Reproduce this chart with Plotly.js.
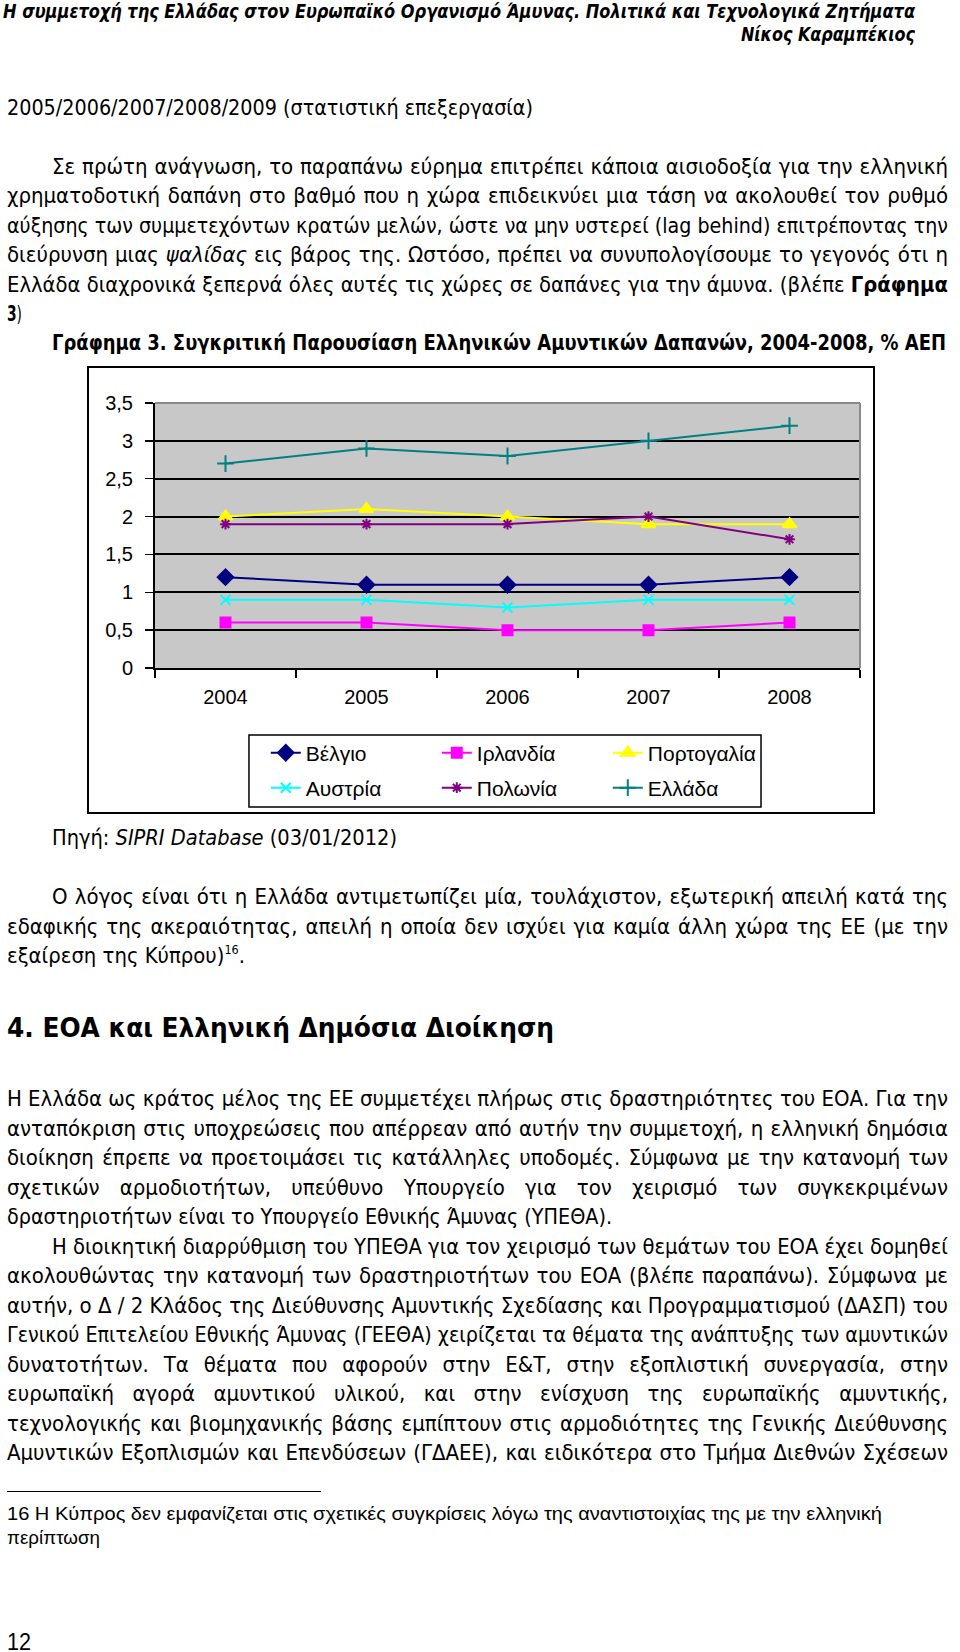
<!DOCTYPE html>
<html>
<head>
<meta charset="utf-8">
<script src="https://cdn.plot.ly/plotly-3.0.1.min.js"></script>
<style>
  html, body { margin:0; padding:0; background:#fff; }
  body { width:960px; height:1652px; position:relative; overflow:hidden; color:#000;
         font-family:"DejaVu Sans Condensed","DejaVu Sans",sans-serif; font-stretch:condensed; }
  .ln { position:absolute; white-space:nowrap; transform-origin:left center; }
  .b  { font-size:21px; line-height:26px; }
  .h1 { font-size:20px; line-height:26px; font-weight:bold; font-style:italic; }
  .h4 { font-size:27px; line-height:34px; font-weight:bold; }
  .fn { font-family:"Liberation Sans Narrow","Liberation Sans",Arial,sans-serif; font-stretch:condensed; font-size:19px; line-height:22px; }
  .pg { font-family:"Liberation Sans Narrow","Liberation Sans",Arial,sans-serif; font-stretch:condensed; font-size:23px; line-height:26px; }
  sup { font-size:12px; line-height:0; vertical-align:9px; }
  #frame { position:absolute; left:87px; top:366px; width:788px; height:448px; border:2px solid #000; box-sizing:border-box; }
  #chart { position:absolute; left:88px; top:367px; width:786px; height:446px; }
  #rule { position:absolute; left:7px; top:1491px; width:314px; height:0; border-top:1.5px solid #000; }
</style>
</head>
<body>
<div id="frame"></div>
<div id="chart"></div>
<div id="rule"></div>
<script>
// ---------- chart data ----------
const years    = ['2004', '2005', '2006', '2007', '2008'];
const belgium  = [1.2, 1.1, 1.1, 1.1, 1.2];
const ireland  = [0.6, 0.6, 0.5, 0.5, 0.6];
const portugal = [2.0, 2.1, 2.0, 1.9, 1.9];
const austria  = [0.9, 0.9, 0.8, 0.9, 0.9];
const poland   = [1.9, 1.9, 1.9, 2.0, 1.7];
const greece   = [2.7, 2.9, 2.8, 3.0, 3.2];
const seriesNames = ['Βέλγιο', 'Ιρλανδία', 'Πορτογαλία', 'Αυστρία', 'Πολωνία', 'Ελλάδα'];
const yTickVals = [0, 0.5, 1, 1.5, 2, 2.5, 3, 3.5];
const yTickText = ['0', '0,5', '1', '1,5', '2', '2,5', '3', '3,5'];

// ---------- page text (layout only) ----------
const lines = [
  // [html, x0, x1, yCenter, class, justify]
  ['Η συμμετοχή της Ελλάδας στον Ευρωπαϊκό Οργανισμό Άμυνας. Πολιτικά και Τεχνολογικά Ζητήματα', 3, 915, 10.5, 'h1', 0],
  ['Νίκος Καραμπέκιος', 741, 915, 34, 'h1', 0],
  ['2005/2006/2007/2008/2009 (στατιστική επεξεργασία)', 7, 533, 107.5, 'b', 0],
  ['Σε πρώτη ανάγνωση, το παραπάνω εύρημα επιτρέπει κάποια αισιοδοξία για την ελληνική', 52, 948, 166.5, 'b', 1],
  ['χρηματοδοτική δαπάνη στο βαθμό που η χώρα επιδεικνύει μια τάση να ακολουθεί τον ρυθμό', 7, 948, 196, 'b', 1],
  ['αύξησης των συμμετεχόντων κρατών μελών, ώστε να μην υστερεί (lag behind) επιτρέποντας την', 7, 948, 225.5, 'b', 1],
  ['διεύρυνση μιας <i>ψαλίδας</i> εις βάρος της. Ωστόσο, πρέπει να συνυπολογίσουμε το γεγονός ότι η', 7, 948, 255, 'b', 1],
  ['Ελλάδα διαχρονικά ξεπερνά όλες αυτές τις χώρες σε δαπάνες για την άμυνα. (βλέπε <b>Γράφημα</b>', 7, 948, 284.5, 'b', 1],
  ['<b>3</b>)', 7, 22, 314, 'b', 0],
  ['<b>Γράφημα 3. Συγκριτική Παρουσίαση Ελληνικών Αμυντικών Δαπανών, 2004-2008, % ΑΕΠ</b>', 52, 946, 342.5, 'b', 1],
  ['Πηγή: <i>SIPRI Database</i> (03/01/2012)', 52, 397, 838, 'b', 0],
  ['Ο λόγος είναι ότι η Ελλάδα αντιμετωπίζει μία, τουλάχιστον, εξωτερική απειλή κατά της', 52, 948, 897, 'b', 1],
  ['εδαφικής της ακεραιότητας, απειλή η οποία δεν ισχύει για καμία άλλη χώρα της ΕΕ (με την', 7, 948, 926.5, 'b', 1],
  ['εξαίρεση της Κύπρου)<sup>16</sup>.', 7, 245, 956, 'b', 0],
  ['4. ΕΟΑ και Ελληνική Δημόσια Διοίκηση', 7, 554, 1027.5, 'h4', 0],
  ['Η Ελλάδα ως κράτος μέλος της ΕΕ συμμετέχει πλήρως στις δραστηριότητες του ΕΟΑ. Για την', 7, 948, 1099, 'b', 1],
  ['ανταπόκριση στις υποχρεώσεις που απέρρεαν από αυτήν την συμμετοχή, η ελληνική δημόσια', 7, 948, 1128.5, 'b', 1],
  ['διοίκηση έπρεπε να προετοιμάσει τις κατάλληλες υποδομές. Σύμφωνα με την κατανομή των', 7, 948, 1158, 'b', 1],
  ['σχετικών αρμοδιοτήτων, υπεύθυνο Υπουργείο για τον χειρισμό των συγκεκριμένων', 7, 948, 1187.5, 'b', 1],
  ['δραστηριοτήτων είναι το Υπουργείο Εθνικής Άμυνας (ΥΠΕΘΑ).', 7, 612, 1217, 'b', 0],
  ['Η διοικητική διαρρύθμιση του ΥΠΕΘΑ για τον χειρισμό των θεμάτων του ΕΟΑ έχει δομηθεί', 52, 948, 1246.5, 'b', 1],
  ['ακολουθώντας την κατανομή των δραστηριοτήτων του ΕΟΑ (βλέπε παραπάνω). Σύμφωνα με', 7, 948, 1276, 'b', 1],
  ['αυτήν, ο Δ / 2 Κλάδος της Διεύθυνσης Αμυντικής Σχεδίασης και Προγραμματισμού (ΔΑΣΠ) του', 7, 948, 1305.5, 'b', 1],
  ['Γενικού Επιτελείου Εθνικής Άμυνας (ΓΕΕΘΑ) χειρίζεται τα θέματα της ανάπτυξης των αμυντικών', 7, 948, 1335, 'b', 1],
  ['δυνατοτήτων. Τα θέματα που αφορούν στην Ε&amp;Τ, στην εξοπλιστική συνεργασία, στην', 7, 948, 1364.5, 'b', 1],
  ['ευρωπαϊκή αγορά αμυντικού υλικού, και στην ενίσχυση της ευρωπαϊκής αμυντικής,', 7, 948, 1394, 'b', 1],
  ['τεχνολογικής και βιομηχανικής βάσης εμπίπτουν στις αρμοδιότητες της Γενικής Διεύθυνσης', 7, 948, 1423.5, 'b', 1],
  ['Αμυντικών Εξοπλισμών και Επενδύσεων (ΓΔΑΕΕ), και ειδικότερα στο Τμήμα Διεθνών Σχέσεων', 7, 948, 1453, 'b', 1],
  ['16 Η Κύπρος δεν εμφανίζεται στις σχετικές συγκρίσεις λόγω της αναντιστοιχίας της με την ελληνική', 7, 882, 1514, 'fn', 0],
  ['περίπτωση', 7, 100, 1537.5, 'fn', 0],
  ['12', 7, 31, 1642, 'pg', 0]
];

const lineH = {b:26, h1:26, h4:34, fn:22, pg:26};
const els = lines.map(([html, x0, x1, y, cls, j]) => {
  const d = document.createElement('div');
  d.className = 'ln ' + cls;
  d.innerHTML = html;
  d.style.left = x0 + 'px';
  d.style.top = (y - lineH[cls] / 2) + 'px';
  d.dataset.x0 = x0; d.dataset.x1 = x1; d.dataset.j = j;
  document.body.appendChild(d);
  return d;
});

function fitLines() {
  const info = els.map(el => {
    el.style.wordSpacing = '0px';
    el.style.transform = 'none';
    return {el, w: el.getBoundingClientRect().width, target: el.dataset.x1 - el.dataset.x0,
            n: (el.textContent.match(/ /g) || []).length, j: el.dataset.j === '1'};
  });
  // global horizontal glyph scale, taken from the tightest justified lines
  const ratios = info.filter(o => o.j && o.w).map(o => o.target / o.w).sort((a, b) => a - b);
  const s = ratios.length ? ratios[Math.floor(ratios.length * 0.3)] : 1;
  info.forEach(o => {
    if (!o.w) return;
    if (o.j) {
      const sc = Math.min(s, o.target / o.w);
      const extra = o.target / sc - o.w;
      if (o.n > 0 && extra > 0) o.el.style.wordSpacing = (extra / o.n) + 'px';
      o.el.style.transform = 'scaleX(' + sc + ')';
    } else {
      o.el.style.transform = 'scaleX(' + (o.target / o.w) + ')';
    }
  });
}
fitLines();
if (document.fonts && document.fonts.ready) document.fonts.ready.then(fitLines);

// ---------- chart ----------
const styles = [
  {color:'#000080', symbol:'diamond', size:12, legend:'legend'},
  {color:'#FF00FF', symbol:'square', size:10, legend:'legend'},
  {color:'#FFFF00', symbol:'triangle-up', size:12, legend:'legend'},
  {color:'#00FFFF', symbol:'x-thin-open', size:10, legend:'legend2'},
  {color:'#800080', symbol:'asterisk-open', size:9, legend:'legend2'},
  {color:'#008080', symbol:'cross-thin-open', size:12, legend:'legend2'}
];
const values = [belgium, ireland, portugal, austria, poland, greece];

const traces = values.map((v, i) => ({
  type:'scatter', mode:'lines+markers',
  x: years, y: v, name: seriesNames[i],
  legend: styles[i].legend,
  line: {color: styles[i].color, width: 2},
  marker: {color: styles[i].color, symbol: styles[i].symbol, size: styles[i].size,
           line: {color: styles[i].color, width: 2}},
  hoverinfo: 'skip'
}));

const legendCommon = {
  orientation:'h', xref:'container', yref:'container', xanchor:'left', yanchor:'middle',
  x:0.2262, entrywidth:126, bgcolor:'rgba(0,0,0,0)', borderwidth:0,
  font:{size:21, color:'#000'}, traceorder:'normal', itemclick:false, itemdoubleclick:false
};

const layout = {
  width:786, height:446,
  margin:{l:67, r:14, t:36, b:145, pad:0},
  paper_bgcolor:'rgba(0,0,0,0)', plot_bgcolor:'#C8C8C8',
  font:{family:'"Liberation Sans", Arial, sans-serif', size:20, color:'#000'},
  separators:',.',
  showlegend:true,
  xaxis:{type:'category', range:[-0.5, 4.5], tickson:'boundaries', ticks:'outside', ticklen:8,
         tickwidth:1.5, tickcolor:'#000', showline:true, linecolor:'#000', linewidth:2,
         showgrid:false, zeroline:false, tickfont:{size:20}, ticklabelstandoff:10, fixedrange:true},
  yaxis:{range:[0, 3.5], tickvals:yTickVals, ticktext:yTickText, ticks:'outside', ticklen:8,
         tickwidth:1.5, tickcolor:'#000', showline:true, linecolor:'#000', linewidth:2,
         showgrid:true, gridcolor:'#000', gridwidth:2, zeroline:false, ticklabelstandoff:8,
         tickfont:{size:20}, fixedrange:true},
  legend: Object.assign({}, legendCommon, {y:0.1345}),
  legend2: Object.assign({}, legendCommon, {y:0.056}),
  shapes:[
    {type:'line', xref:'paper', yref:'paper', x0:0, x1:1, y0:1, y1:1, line:{color:'#8a8a8a', width:2}, layer:'above'},
    {type:'line', xref:'paper', yref:'paper', x0:1, x1:1, y0:0, y1:1, line:{color:'#8a8a8a', width:2}, layer:'above'},
    {type:'rect', xref:'paper', yref:'paper', x0:0.1333, x1:0.8596, y0:-0.5245, y1:-0.2528,
     line:{color:'#000', width:1.5}, fillcolor:'rgba(0,0,0,0)'}
  ]
};

Plotly.newPlot('chart', traces, layout, {staticPlot:true, displayModeBar:false});
</script>
</body>
</html>
